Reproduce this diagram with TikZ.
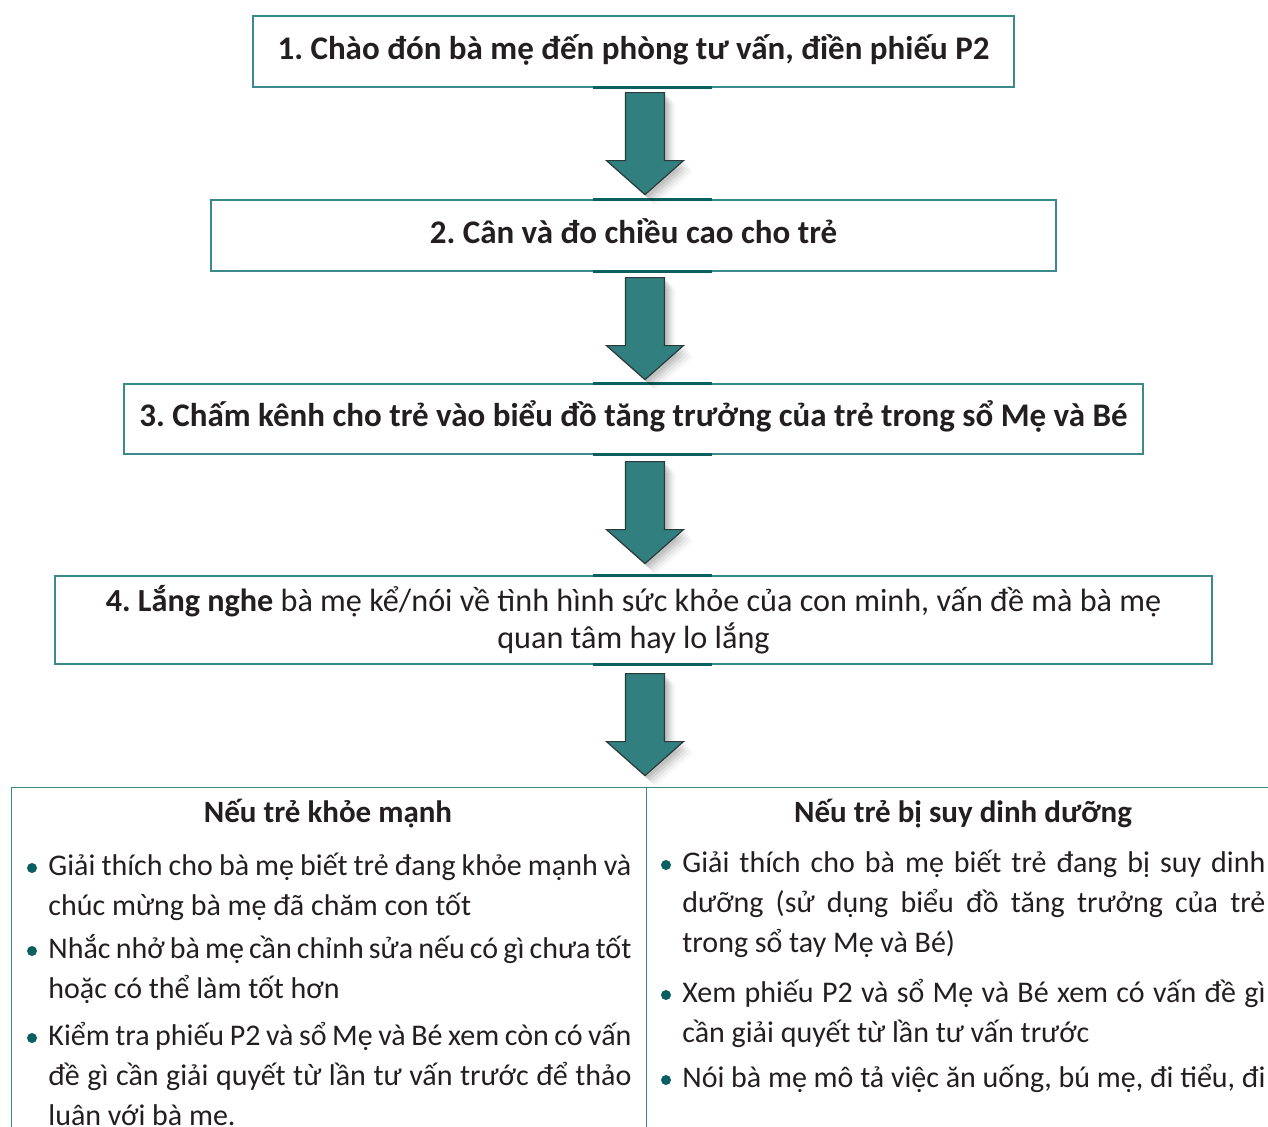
\documentclass[tikz,border=0pt]{standalone}
\usepackage{fontspec}
\setmainfont{Carlito}
\usetikzlibrary{positioning,calc}
\definecolor{boxline}{HTML}{3A8A8C}
\definecolor{darkline}{HTML}{0A5F60}
\definecolor{arrowfill}{HTML}{327F80}
\definecolor{arrowedge}{HTML}{2B3A3A}
\definecolor{inktext}{HTML}{231F20}
\frenchspacing
\newcommand{\regfont}{\fontsize{16.1}{18.5}\selectfont}
\newcommand{\boldfont}{\fontsize{16.5}{18}\selectfont\bfseries}
\newcommand{\headfont}{\fontsize{15.5}{18}\selectfont\bfseries}
\tikzset{
  stepbox/.style={draw=boxline, line width=0.6pt, inner sep=0pt, text=inktext,
    font=\boldfont, text height=11pt, text depth=3.5pt},
  joinline/.style={draw=darkline, line width=1.4pt},
  panel/.style={draw=boxline, line width=0.6pt, inner sep=0pt},
  headtext/.style={text=inktext, font=\headfont, inner sep=0pt},
  itemtext/.style={text=inktext, font=\fontsize{15}{20}\selectfont, inner sep=0pt,
    text width=291.5pt, align=justify},
  bulletdot/.style={fill=darkline},
  arrowbody/.style={fill=arrowfill, draw=arrowedge, line width=0.6pt},
  flowarrow/.pic={
    \foreach \d/\o in {11/.025,9/.04,7/.055,5/.07,3/.08}
      \fill[black, opacity=\o, shift={(\d,\d)}] (-19.5,0) -- (19.5,0) -- (19.5,68) -- (38.5,68) -- (0,102) -- (-38.5,68) -- (-19.5,68) -- cycle;
    \draw[arrowbody] (-19.5,0) -- (19.5,0) -- (19.5,68) -- (38.5,68) -- (0,102) -- (-38.5,68) -- (-19.5,68) -- cycle;
  }
}
\begin{document}
\begin{tikzpicture}[x=0.5pt,y=-0.5pt]
\useasboundingbox (0,0) rectangle (1268,1126);

% steps
\node[stepbox, minimum width=380.5pt, minimum height=35.5pt] (s1) at (633.5,51.5) {1. Chào đón bà mẹ đến phòng tư vấn, điền phiếu P2};
\node[stepbox, minimum width=422.5pt, minimum height=35.5pt] (s2) at (633.5,235.5) {2. Cân và đo chiều cao cho trẻ};
\node[stepbox, minimum width=509.5pt, minimum height=35pt] (s3) at (633.5,419) {3. Chấm kênh cho trẻ vào biểu đồ tăng trưởng của trẻ trong sổ Mẹ và Bé};
\node[stepbox, minimum width=578.5pt, minimum height=44pt, align=center, font=\regfont, text height=, text depth=] (s4) at (633.5,620)
  {\textbf{4. Lắng nghe} bà mẹ kể/nói về tình hình sức khỏe của con minh, vấn đề mà bà mẹ\\quan tâm hay lo lắng};

% dark strips where the arrows meet the boxes
\foreach \n in {s1,s2,s3,s4}
  \draw[joinline] ($(\n.south)+(-40.5,0)$) -- ($(\n.south)+(78.5,0)$);
\foreach \n in {s2,s3,s4}
  \draw[joinline] ($(\n.north)+(-40.5,0)$) -- ($(\n.north)+(78.5,0)$);

% arrows
\pic at ($(s1.south)+(11.5,5)$) {flowarrow};
\pic at ($(s2.south)+(11.5,6)$) {flowarrow};
\pic at ($(s3.south)+(11.5,7)$) {flowarrow};
\pic at ($(s4.south)+(11.5,9)$) {flowarrow};

% two cases
\node[panel, minimum width=317.5pt, minimum height=190pt, anchor=north west] (well) at (11,787) {};
\node[panel, minimum width=325pt, minimum height=190pt, anchor=north west] (poor) at (646,787) {};

\node[headtext, anchor=base] (wellhead) at (328,822) {Nếu trẻ khỏe mạnh};
\node[headtext, anchor=base] (poorhead) at (963,822) {Nếu trẻ bị suy dinh dưỡng};

\node[itemtext, anchor=base west] (w1) at (48,875) {Giải thích cho bà mẹ biết trẻ đang khỏe mạnh và\linebreak chúc mừng bà mẹ đã chăm con tốt};
\node[itemtext, anchor=base west] (w2) at (48,958) {Nhắc nhở bà mẹ cần chỉnh sửa nếu có gì chưa tốt\linebreak hoặc có thể làm tốt hơn};
\node[itemtext, anchor=base west] (w3) at (48,1045) {Kiểm tra phiếu P2 và sổ Mẹ và Bé xem còn có vấn\linebreak đề gì cần giải quyết từ lần tư vấn trước để thảo\linebreak luận với bà mẹ.};

\node[itemtext, anchor=base west] (p1) at (682,872) {Giải thích cho bà mẹ biết trẻ đang bị suy dinh\linebreak dưỡng (sử dụng biểu đồ tăng trưởng của trẻ\linebreak trong sổ tay Mẹ và Bé)};
\node[itemtext, anchor=base west] (p2) at (682,1002) {Xem phiếu P2 và sổ Mẹ và Bé xem có vấn đề gì\linebreak cần giải quyết từ lần tư vấn trước};
\node[itemtext, anchor=base west] (p3) at (682,1087) {Nói bà mẹ mô tả việc ăn uống, bú mẹ, đi tiểu, đi};

\foreach \n in {w1,w2,w3,p1,p2,p3}
  \fill[bulletdot] ($(\n.base west)+(-16,-7)$) circle [radius=2.5pt];

\end{tikzpicture}
\end{document}
